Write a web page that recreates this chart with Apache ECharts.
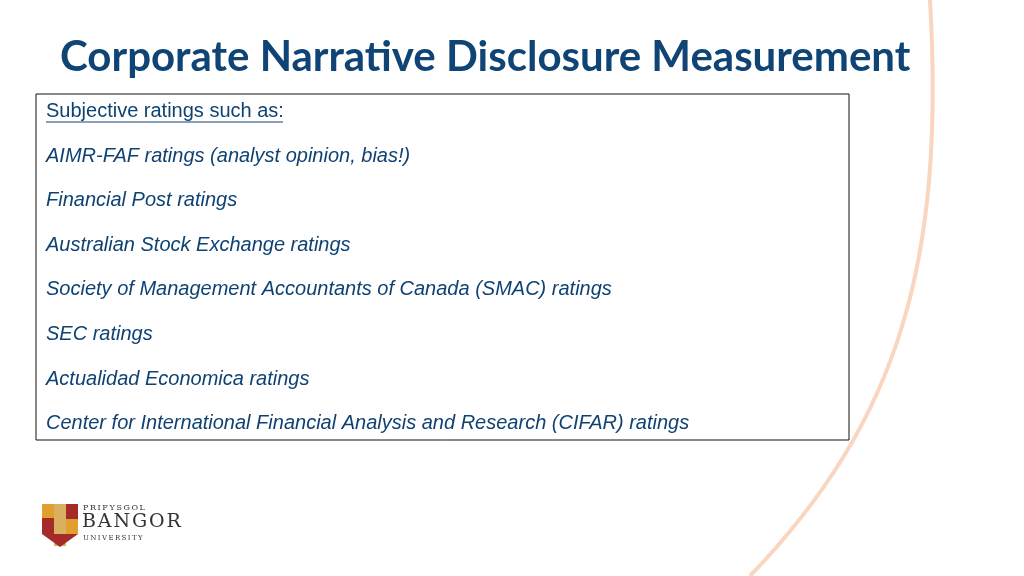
<!DOCTYPE html>
<html><head><meta charset="utf-8">
<script src="https://cdn.jsdelivr.net/npm/echarts@6/dist/echarts.min.js"></script>
<style>html,body{margin:0;padding:0;background:#fff}#c{width:1024px;height:576px}</style>
</head><body><div id="c"></div>
<script>
const title = 'Corporate Narrative Disclosure Measurement';
const heading = 'Subjective ratings such as:';
const items = [
  'AIMR-FAF ratings (analyst opinion, bias!)',
  'Financial Post ratings',
  'Australian Stock Exchange ratings',
  'Society of Management Accountants of Canada (SMAC) ratings',
  'SEC ratings',
  'Actualidad Economica ratings',
  'Center for International Financial Analysis and Research (CIFAR) ratings'
];
const logoWords = ['PRIFYSGOL', 'BANGOR', 'UNIVERSITY'];

const chart = echarts.init(document.getElementById('c'));
const g = [];
const blue = '#0f4273';
g.push({type:'bezierCurve', shape:{x1:930,y1:0,x2:750,y2:576,cpx1:945,cpy1:260,cpx2:900,cpy2:420},
  style:{stroke:'#f9d6bf',lineWidth:4,fill:null}});
g.push({type:'text', x:60, y:36, style:{text:title, font:'bold 42px Lato, "Open Sans", sans-serif', fill:'#0f4475'}});
g.push({type:'rect', shape:{x:36,y:94,width:813,height:346}, style:{fill:'#fff',stroke:'#111',lineWidth:1}});
g.push({type:'text', x:46, y:101, style:{text:heading, font:'20px "Liberation Sans", Arial, sans-serif', fill:blue}});
g.push({type:'line', shape:{x1:46,y1:122,x2:283,y2:122}, style:{stroke:blue,lineWidth:1}});
items.forEach((t,i)=>{
  g.push({type:'text', x:46, y:146+i*44.6, style:{text:t, font:'italic 20px "Liberation Sans", Arial, sans-serif', fill:blue}});
});
g.push({type:'rect', shape:{x:42,y:504,width:36,height:30}, style:{fill:'#a52a2a'}});
g.push({type:'rect', shape:{x:42,y:504,width:12,height:14}, style:{fill:'#e0a030'}});
g.push({type:'rect', shape:{x:66,y:519,width:12,height:15}, style:{fill:'#e0a030'}});
g.push({type:'rect', shape:{x:54,y:504,width:12,height:42}, style:{fill:'#d9b060'}});
g.push({type:'polygon', shape:{points:[[42,534],[78,534],[60,547]]}, style:{fill:'#a52a2a'}});
g.push({type:'text', x:83, y:504, style:{text:logoWords[0].split('').join('\u2009'), font:'8px "DejaVu Serif", serif', fill:'#333'}});
g.push({type:'text', x:82, y:513, style:{text:logoWords[1].split('').join('\u200A'), font:'19px "DejaVu Serif", serif', fill:'#333'}});
g.push({type:'text', x:83, y:535, style:{text:logoWords[2].split('').join('\u2009'), font:'7px "DejaVu Serif", serif', fill:'#333'}});
chart.setOption({animation:false, graphic:g});
</script></body></html>
